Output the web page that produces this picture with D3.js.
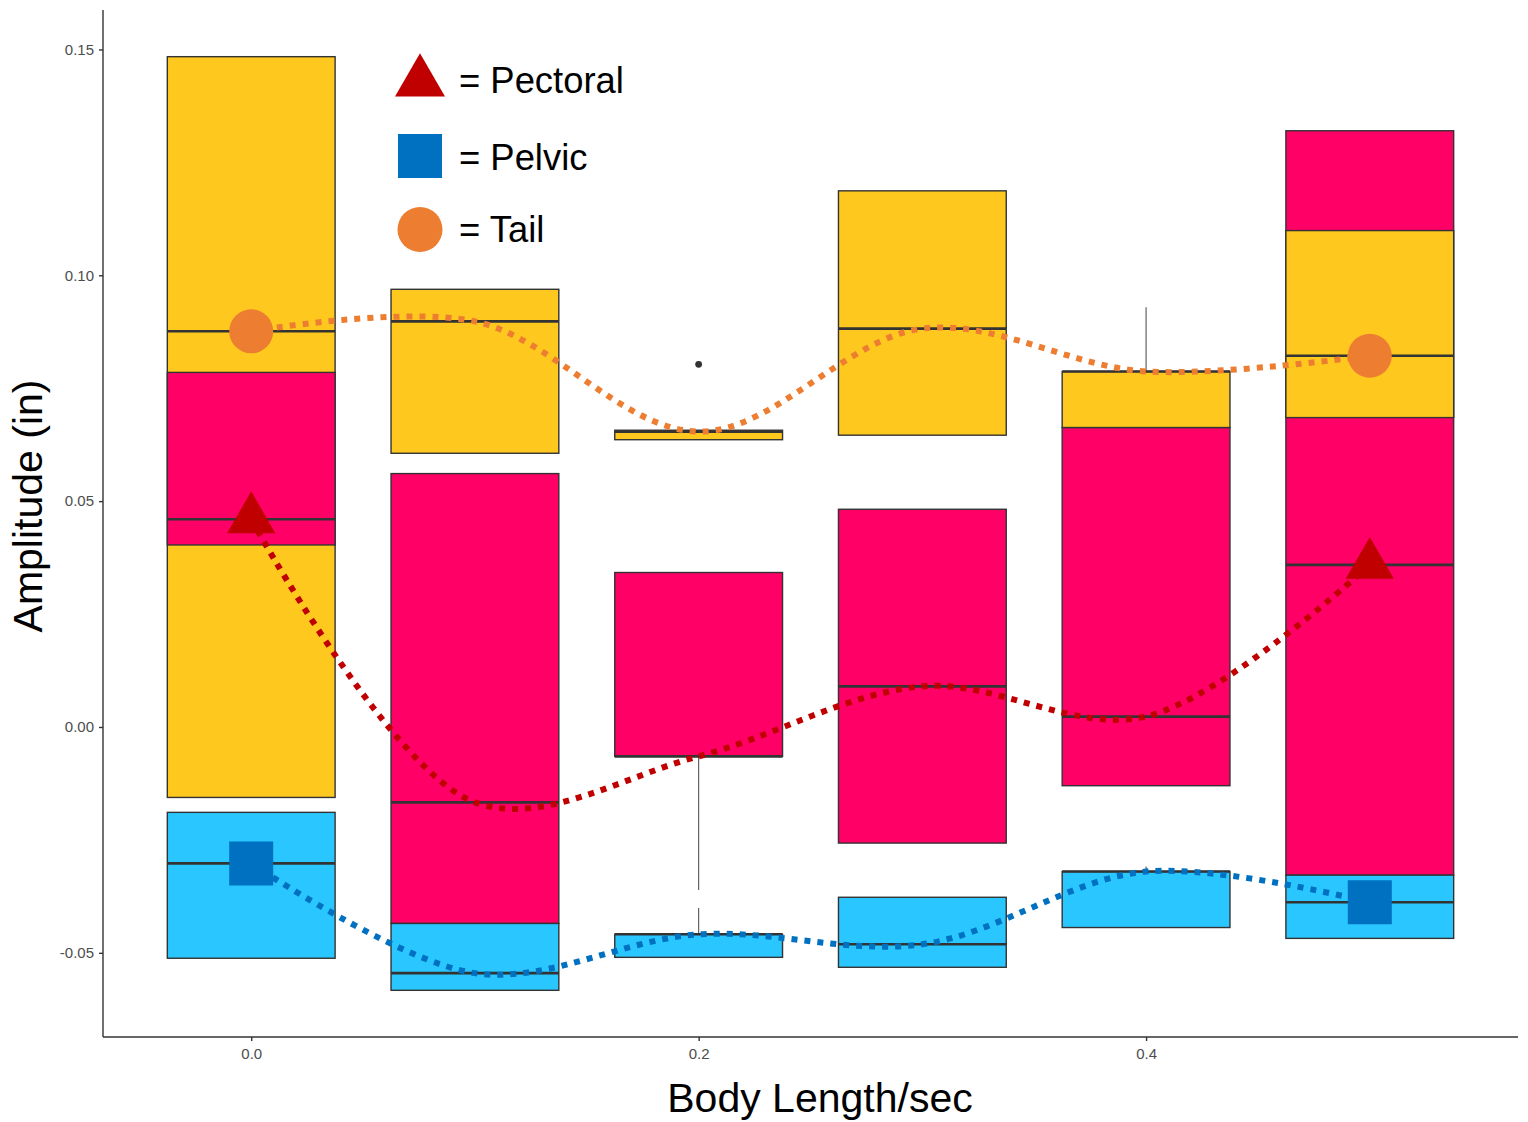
<!DOCTYPE html>
<html>
<head>
<meta charset="utf-8">
<script src="https://cdn.jsdelivr.net/npm/d3@7"></script>
<style>
  html, body { margin: 0; padding: 0; background: #fff; }
  svg { display: block; font-family: "Liberation Sans", Arial, sans-serif; }
</style>
</head>
<body>
<svg id="chart" width="1528" height="1122"></svg>
<script>
// Swimming speeds (body lengths per second)
const speeds = [0, 0.1, 0.2, 0.3, 0.4, 0.5];

// Fin-beat amplitude summaries per speed: [whiskerLow, q1, median, q3, whiskerHigh]
const tailStats = [
  [-0.0156, -0.0156, 0.0876, 0.1484, 0.1484],
  [0.0606, 0.0606, 0.0898, 0.0969, 0.0969],
  [0.0636, 0.0636, 0.0654, 0.0657, 0.0657],
  [0.0646, 0.0646, 0.0882, 0.1187, 0.1187],
  [0.0663, 0.0663, 0.0787, 0.0787, 0.0929],
  [0.0685, 0.0685, 0.0822, 0.1099, 0.1099]
];
const pectoralStats = [
  [0.0403, 0.0403, 0.0460, 0.0785, 0.0785],
  [-0.0435, -0.0435, -0.0167, 0.0561, 0.0561],
  [-0.0361, -0.0065, -0.0065, 0.0342, 0.0342],
  [-0.0257, -0.0257, 0.0090, 0.0482, 0.0482],
  [-0.0130, -0.0130, 0.0023, 0.0663, 0.0663],
  [-0.0328, -0.0328, 0.0359, 0.1320, 0.1320]
];
const pelvicStats = [
  [-0.0512, -0.0512, -0.0302, -0.0189, -0.0189],
  [-0.0583, -0.0583, -0.0545, -0.0435, -0.0435],
  [-0.0510, -0.0510, -0.0459, -0.0459, -0.0401],
  [-0.0532, -0.0532, -0.0481, -0.0377, -0.0377],
  [-0.0444, -0.0444, -0.0320, -0.0320, -0.0309],
  [-0.0468, -0.0468, -0.0388, -0.0328, -0.0328]
];
// Outlying observations: [speed, amplitude]
const tailOutliers = [[0.2, 0.0803]];

const xTicks = [0.0, 0.2, 0.4];
const yTicks = [-0.05, 0.00, 0.05, 0.10, 0.15];

const fins = [
  { name: "Pectoral", stats: pectoralStats, outliers: [], fill: "#FF0066", line: "#C00000", shape: d3.symbolTriangle },
  { name: "Pelvic",   stats: pelvicStats,   outliers: [], fill: "#29C6FF", line: "#0070C0", shape: d3.symbolSquare },
  { name: "Tail",     stats: tailStats,     outliers: tailOutliers, fill: "#FFC81F", line: "#ED7D31", shape: d3.symbolCircle }
];
const markerSize = { Pectoral: 1010, Pelvic: 1936, Tail: 1520 };

const W = 1528, H = 1122;
const margin = { left: 103, right: 10, top: 10, bottom: 85 };
const svg = d3.select("#chart");

const boxWidth = 0.075;
const xExtent = [d3.min(speeds) - boxWidth / 2, d3.max(speeds) + boxWidth / 2];
const xPad = (xExtent[1] - xExtent[0]) * 0.05;
const x = d3.scaleLinear()
  .domain([xExtent[0] - xPad, xExtent[1] + xPad])
  .range([margin.left, W - margin.right]);

const allVals = fins.flatMap(f => f.stats.flat().concat(f.outliers.map(o => o[1])));
const yExtent = d3.extent(allVals);
const yPad = (yExtent[1] - yExtent[0]) * 0.05;
const y = d3.scaleLinear()
  .domain([yExtent[0] - yPad, yExtent[1] + yPad])
  .range([H - margin.bottom, margin.top]);

// Boxes: at each speed, the box with the widest spread goes underneath
const boxes = [];
speeds.forEach((s, i) => {
  fins.forEach(f => {
    const [lo, q1, med, q3, hi] = f.stats[i];
    boxes.push({ speed: s, fin: f, lo, q1, med, q3, hi });
  });
});
boxes.sort((a, b) => (a.speed - b.speed) || ((b.q3 - b.q1) - (a.q3 - a.q1)));

const gBoxes = svg.append("g");
boxes.forEach(b => {
  const g = gBoxes.append("g");
  const cx = x(b.speed);
  if (b.hi > b.q3) {
    g.append("line").attr("x1", cx).attr("x2", cx)
      .attr("y1", y(b.q3)).attr("y2", y(b.hi))
      .attr("stroke", "#555").attr("stroke-width", 1.1);
  }
  if (b.lo < b.q1) {
    g.append("line").attr("x1", cx).attr("x2", cx)
      .attr("y1", y(b.q1)).attr("y2", y(b.lo))
      .attr("stroke", "#555").attr("stroke-width", 1.1);
  }
  g.append("rect")
    .attr("x", x(b.speed - boxWidth / 2))
    .attr("y", y(b.q3))
    .attr("width", x(b.speed + boxWidth / 2) - x(b.speed - boxWidth / 2))
    .attr("height", Math.max(0, y(b.q1) - y(b.q3)))
    .attr("fill", b.fin.fill)
    .attr("stroke", "#333")
    .attr("stroke-width", 1.4);
  g.append("line")
    .attr("x1", x(b.speed - boxWidth / 2)).attr("x2", x(b.speed + boxWidth / 2))
    .attr("y1", y(b.med)).attr("y2", y(b.med))
    .attr("stroke", "#333").attr("stroke-width", 2.6);
});

// Outlier points
fins.forEach(f => {
  svg.append("g").selectAll("circle").data(f.outliers).join("circle")
    .attr("cx", d => x(d[0])).attr("cy", d => y(d[1]))
    .attr("r", 3.4).attr("fill", "#333");
});

// Axes
const xAxis = d3.axisBottom(x).tickValues(xTicks).tickFormat(d => d.toFixed(1)).tickSize(4).tickPadding(7);
const yAxis = d3.axisLeft(y).tickValues(yTicks).tickFormat(d => d.toFixed(2)).tickSize(4).tickPadding(5);

const gx = svg.append("g").attr("transform", `translate(0,${H - margin.bottom})`).call(xAxis);
const gy = svg.append("g").attr("transform", `translate(${margin.left},0)`).call(yAxis);
[gx, gy].forEach(g => {
  g.select(".domain").attr("stroke", "#333").attr("stroke-width", 1.4);
  g.selectAll(".tick line").attr("stroke", "#333").attr("stroke-width", 1.4);
  g.selectAll(".tick text").attr("fill", "#4D4D4D").attr("font-size", 15)
    .attr("font-family", "Liberation Sans, Arial, sans-serif");
});
gx.select(".domain").attr("d", `M${margin.left},0H${W - margin.right}`);
gy.select(".domain").attr("d", `M0,${margin.top}V${H - margin.bottom}`);

// Median trend lines through each fin's medians
const line = d3.line().x(d => x(d[0])).y(d => y(d[1])).curve(d3.curveCatmullRom.alpha(0.5));
const lineOrder = ["Tail", "Pectoral", "Pelvic"];
lineOrder.forEach(name => {
  const f = fins.find(ff => ff.name === name);
  const pts = speeds.map((s, i) => [s, f.stats[i][2]]);
  svg.append("path").datum(pts)
    .attr("d", line)
    .attr("fill", "none")
    .attr("stroke", f.line)
    .attr("stroke-width", 6)
    .attr("stroke-dasharray", "6,7");
});

// Endpoint markers at the slowest and fastest speeds
const ends = [0, speeds.length - 1];
fins.forEach(f => {
  ends.forEach(i => {
    svg.append("path")
      .attr("d", d3.symbol().type(f.shape).size(markerSize[f.name])())
      .attr("transform", `translate(${x(speeds[i])},${y(f.stats[i][2])})`)
      .attr("fill", f.line);
  });
});

// Key
const key = svg.append("g");
const keyRows = [
  { name: "Pectoral", cy: 82, ty: 93, size: 1082 },
  { name: "Pelvic", cy: 156, ty: 170, size: 1936 },
  { name: "Tail", cy: 229.5, ty: 242, size: 1590 }
];
keyRows.forEach(r => {
  const f = fins.find(ff => ff.name === r.name);
  key.append("path")
    .attr("d", d3.symbol().type(f.shape).size(r.size)())
    .attr("transform", `translate(420,${r.cy})`)
    .attr("fill", f.line);
  key.append("text")
    .attr("x", 459).attr("y", r.ty)
    .attr("font-size", 36.4).attr("fill", "#000")
    .text("= " + r.name);
});

// Axis titles
svg.append("text")
  .attr("x", 820).attr("y", 1112)
  .attr("text-anchor", "middle").attr("font-size", 41).attr("fill", "#000")
  .text("Body Length/sec");
svg.append("text")
  .attr("transform", "translate(42,506) rotate(-90)")
  .attr("text-anchor", "middle").attr("font-size", 41).attr("fill", "#000")
  .text("Amplitude (in)");
</script>
</body>
</html>
